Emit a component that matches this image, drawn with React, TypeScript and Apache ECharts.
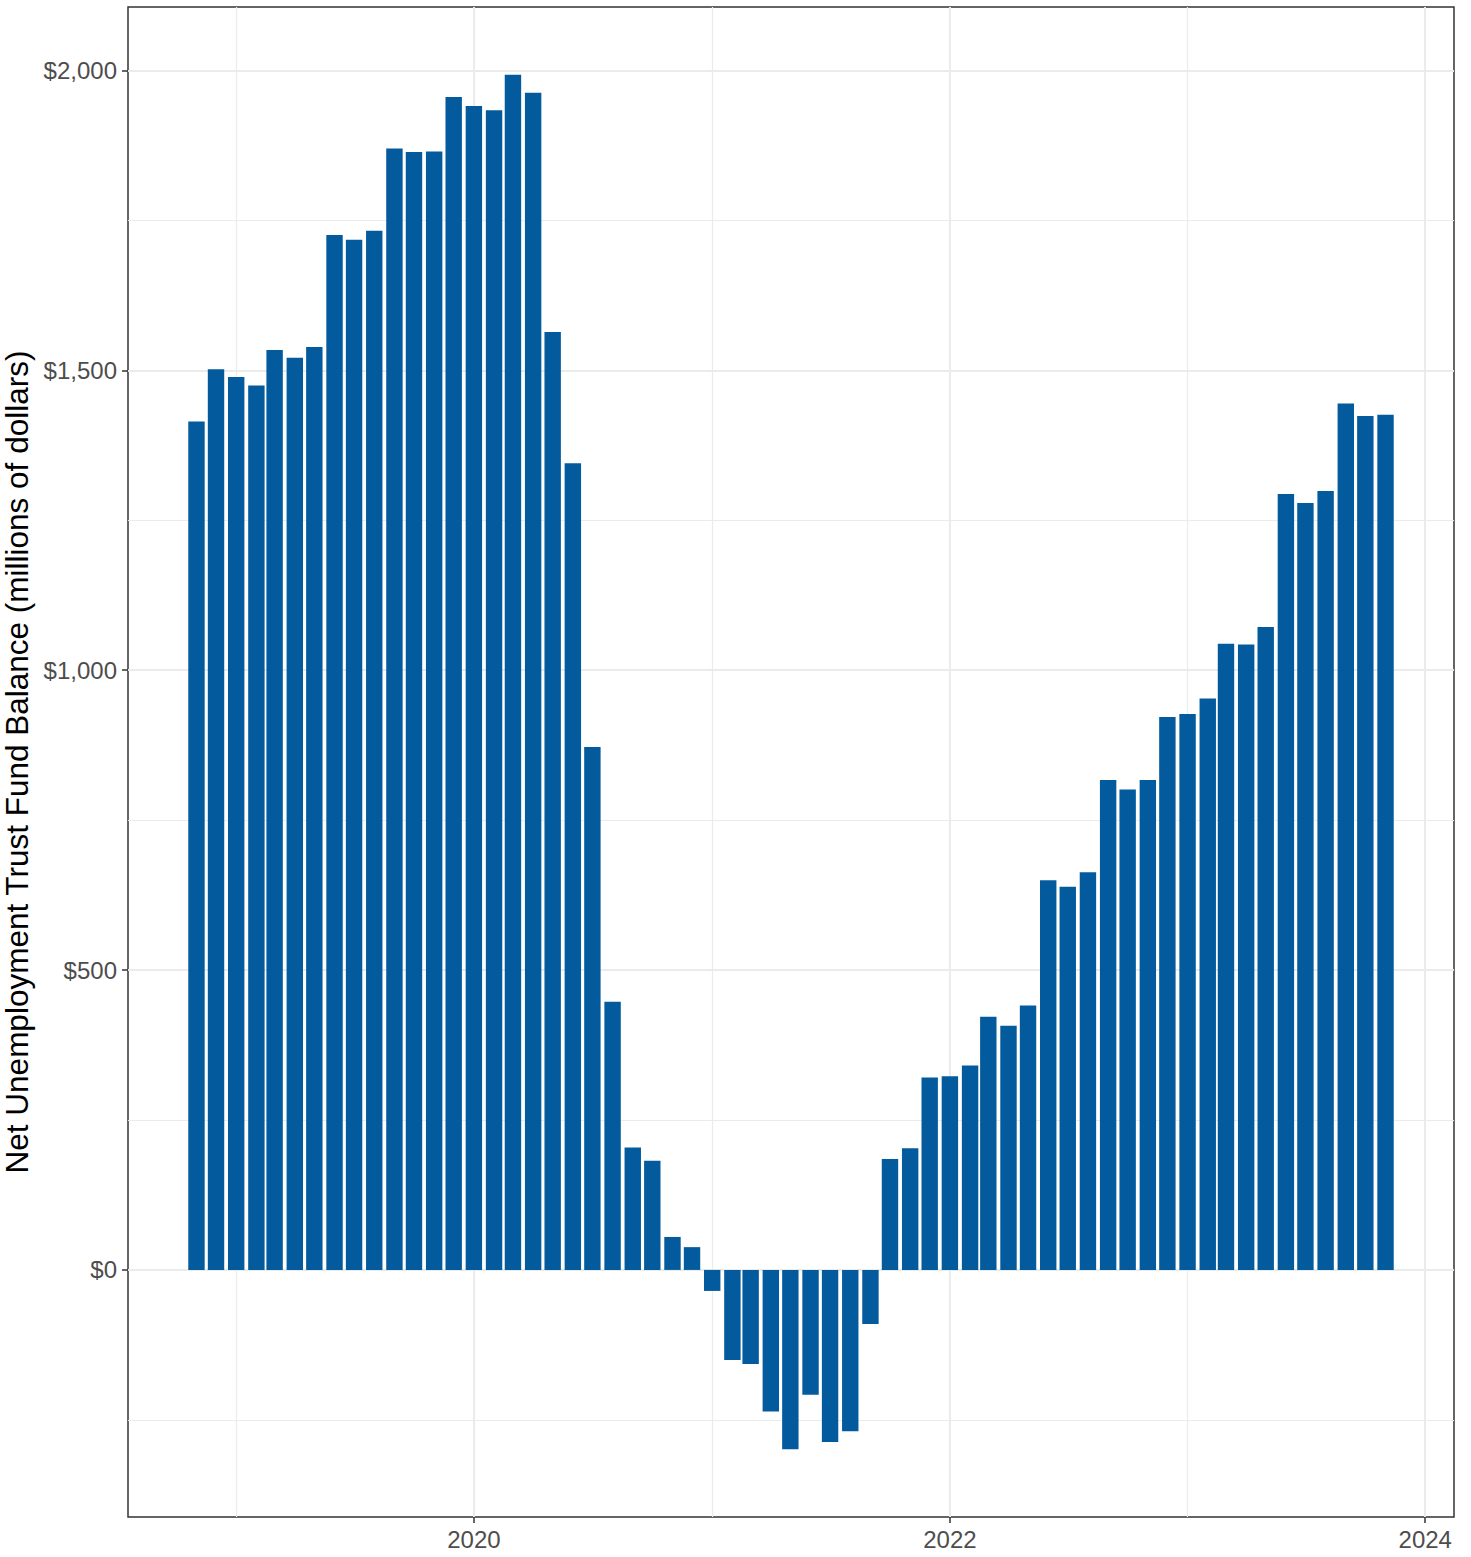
import React, { useEffect, useRef } from "react";
import * as echarts from "echarts";

// Month of each bar (first day of month)
const months = [
  "2018-11", "2018-12",
  "2019-01", "2019-02", "2019-03", "2019-04", "2019-05", "2019-06", "2019-07", "2019-08", "2019-09", "2019-10", "2019-11", "2019-12",
  "2020-01", "2020-02", "2020-03", "2020-04", "2020-05", "2020-06", "2020-07", "2020-08", "2020-09", "2020-10", "2020-11", "2020-12",
  "2021-01", "2021-02", "2021-03", "2021-04", "2021-05", "2021-06", "2021-07", "2021-08", "2021-09", "2021-10", "2021-11", "2021-12",
  "2022-01", "2022-02", "2022-03", "2022-04", "2022-05", "2022-06", "2022-07", "2022-08", "2022-09", "2022-10", "2022-11", "2022-12",
  "2023-01", "2023-02", "2023-03", "2023-04", "2023-05", "2023-06", "2023-07", "2023-08", "2023-09", "2023-10", "2023-11",
];

// Net Unemployment Trust Fund Balance (millions of dollars)
const balances = [
  1415, 1502,
  1489, 1475, 1534, 1521, 1539, 1726, 1718, 1733, 1870, 1864, 1865, 1956,
  1941, 1934, 1993, 1963, 1564, 1345, 872, 447, 204, 182, 55, 38,
  -35, -150, -157, -236, -299, -208, -287, -269, -90, 185, 203, 321,
  323, 341, 422, 407, 441, 650, 639, 663, 817, 801, 817, 922,
  927, 953, 1044, 1043, 1072, 1294, 1279, 1299, 1445, 1424, 1426,
];

const majorXTicks = ["2020-01", "2022-01", "2024-01"];
const minorXTicks = ["2019-01", "2021-01", "2023-01"];
const majorYTicks = [0, 500, 1000, 1500, 2000];
const minorYTicks = [-250, 250, 750, 1250, 1750];

const yMin = -412;
const yMax = 2106;

const DAY = 86400000;
const toMs = (s: string) => Date.UTC(+s.slice(0, 4), +s.slice(5, 7) - 1, 1);
// ggplot-style limits: half bar width (12.6 d) + 5% expansion (92.56 d)
const xPad = 105.16 * DAY;
const xMin = toMs(months[0]) - xPad;
const xMax = toMs(months[months.length - 1]) + xPad;

const FONT = "'Liberation Sans', Arial, Helvetica, sans-serif";

export default function App() {
  const ref = useRef<HTMLDivElement>(null);

  useEffect(() => {
    if (!ref.current) return;
    const chart = echarts.init(ref.current, undefined, { renderer: "svg" });
    const majorX = majorXTicks.map(toMs);
    const minorX = minorXTicks.map(toMs);
    const data = months.map((m, i) => [toMs(m), balances[i]]);

    chart.setOption({
      animation: false,
      backgroundColor: "#ffffff",
      grid: {
        left: 128,
        right: 17,
        top: 7,
        bottom: 40,
        show: true,
        borderColor: "#333333",
        borderWidth: 1.5,
        backgroundColor: "transparent",
        containLabel: false,
        outerBoundsMode: "none",
      },
      xAxis: [
        {
          type: "value",
          min: xMin,
          max: xMax,
          axisLine: { show: false, onZero: false },
          axisTick: {
            show: true,
            customValues: majorX,
            length: 6,
            lineStyle: { color: "#333333", width: 1.5 },
          },
          axisLabel: {
            customValues: majorX,
            formatter: (v: number) => String(new Date(v).getUTCFullYear()),
            color: "#4d4d4d",
            fontSize: 24,
            fontFamily: FONT,
            margin: 10,
          },
          splitLine: { show: true, lineStyle: { color: "#ebebeb", width: 2 } },
        },
        {
          type: "value",
          min: xMin,
          max: xMax,
          position: "bottom",
          axisLine: { show: false, onZero: false },
          axisTick: { show: false, customValues: minorX },
          axisLabel: { show: false, customValues: minorX },
          splitLine: { show: true, lineStyle: { color: "#ebebeb", width: 1.2 } },
        },
      ],
      yAxis: [
        {
          type: "value",
          min: yMin,
          max: yMax,
          name: "Net Unemployment Trust Fund Balance (millions of dollars)",
          nameLocation: "middle",
          nameGap: 89,
          nameTextStyle: { color: "#000000", fontSize: 31.5, fontFamily: FONT },
          axisLine: { show: false, onZero: false },
          axisTick: {
            show: true,
            customValues: majorYTicks,
            length: 6,
            lineStyle: { color: "#333333", width: 1.5 },
          },
          axisLabel: {
            customValues: majorYTicks,
            formatter: (v: number) => "$" + v.toLocaleString("en-US"),
            color: "#4d4d4d",
            fontSize: 24,
            fontFamily: FONT,
            margin: 11,
          },
          splitLine: { show: true, lineStyle: { color: "#ebebeb", width: 2 } },
        },
        {
          type: "value",
          min: yMin,
          max: yMax,
          position: "left",
          axisLine: { show: false, onZero: false },
          axisTick: { show: false, customValues: minorYTicks },
          axisLabel: { show: false, customValues: minorYTicks },
          splitLine: { show: true, lineStyle: { color: "#ebebeb", width: 1.2 } },
        },
      ],
      series: [
        {
          type: "bar",
          xAxisIndex: 0,
          yAxisIndex: 0,
          data,
          barWidth: "90%",
          itemStyle: { color: "#035B9D" },
        },
      ],
    });

    return () => chart.dispose();
  }, []);

  return (
    <div
      ref={ref}
      style={{ position: "absolute", left: 0, top: 0, width: 1471, height: 1557, background: "#fff" }}
    />
  );
}
